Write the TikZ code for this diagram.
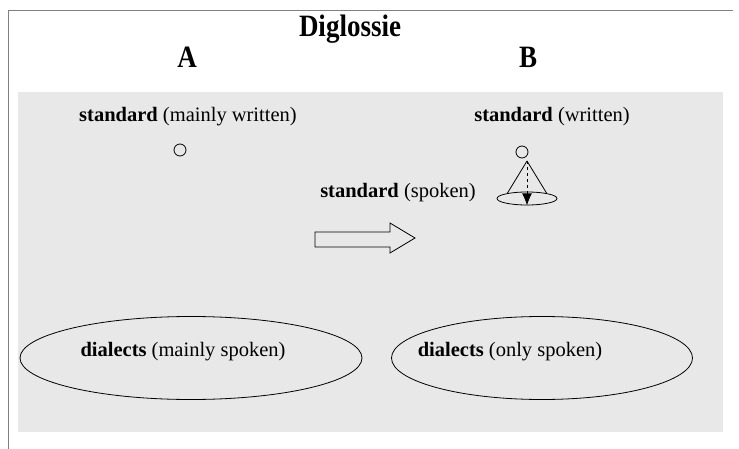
\documentclass[tikz,border=0pt]{standalone}
\usepackage{fontspec}
\setmainfont{Liberation Serif}
\usetikzlibrary{shapes.geometric,arrows.meta}

\begin{document}
\begin{tikzpicture}[x=1pt, y=-1pt,
    txt/.style   = {font=\fontsize{20.5}{23}\selectfont, inner sep=0pt},
    head/.style  = {font=\fontsize{27}{30}\selectfont\bfseries, inner sep=0pt, anchor=base, yscale=1.15},
    dot/.style   = {circle, draw, thick, minimum size=12pt, inner sep=0pt},
    area/.style  = {ellipse, draw, thick, inner sep=0pt}]

\useasboundingbox (0,0) rectangle (739,449);

% Rahmen und grauer Hintergrund
\draw [gray, thick] (8,449) -- (8,10) -- (733,10);
\fill [black!9] (18,92) rectangle (723,432);

% Titel und Spalten
\node [head] (title) at (350,37) {Diglossie};
\node [head] (colA)  at (187,68) {A};
\node [head] (colB)  at (528,68) {B};

% Situation A
\node [txt] (stdA) at (188,117) {\textbf{standard} (mainly written)};
\node [dot] (dotA) at (180,150) {};
\node [area, minimum width=342pt, minimum height=83pt] (dialA) at (191,358) {};
\node [txt] (dialAtxt) at (183,352) {\textbf{dialects} (mainly spoken)};

% Pfeil von A nach B
\draw [thick] (315,232) -- (390,232) -- (390,223) -- (415,238)
              -- (390,253) -- (390,247) -- (315,247) -- cycle;

% Situation B
\node [txt] (stdB)   at (552,117) {\textbf{standard} (written)};
\node [dot] (dotB)   at (522,152) {};
\coordinate (apex)   at (527,161);
\node [area, minimum width=60pt, minimum height=13pt] (disc) at (527,198.5) {};
\draw [thick] (apex) -- (disc.165);
\draw [thick] (apex) -- (disc.15);
\draw [thick, dashed, -{Latex[length=12pt, width=10pt]}] (apex) -- (disc.south);
\node [txt] (spokB)  at (398,193) {\textbf{standard} (spoken)};
\node [area, minimum width=301pt, minimum height=83pt] (dialB) at (542,358) {};
\node [txt] (dialBtxt) at (510,352) {\textbf{dialects} (only spoken)};

\end{tikzpicture}
\end{document}
